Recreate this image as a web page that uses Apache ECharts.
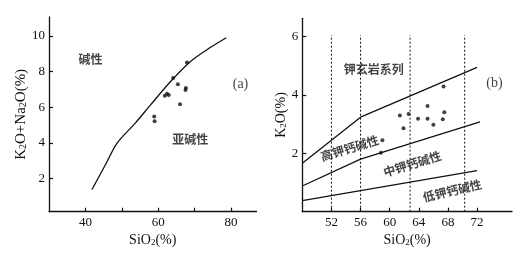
<!DOCTYPE html>
<html>
<head>
<meta charset="utf-8">
<script src="https://cdn.jsdelivr.net/npm/echarts@6/dist/echarts.min.js"></script>
<style>html,body{margin:0;padding:0;background:#fff;}#c{width:530px;height:258px;}</style>
</head>
<body>
<div id="c"></div>
<script>
// ---- Panel (a): TAS-style diagram ----
const curveA = [[41.8,1.39],[45.5,2.78],[48.7,3.99],[53.7,5.11],[57.9,6.13],[63.4,7.44],[68.8,8.55],[74.3,9.34],[78.7,9.89]];
const pointsA = [[67.9,8.50],[64.1,7.63],[65.4,7.29],[67.6,7.07],[67.5,6.97],[62.4,6.75],[61.8,6.64],[62.9,6.69],[66.0,6.17],[58.9,5.48],[59.0,5.22]];
const xTicksA = [40,50,60,70,80];
const xLabelsA = [40,60,80];
const yTicksA = [2,4,6,8,10];
const notesA = [
  {text:'碱性', x:41.4, y:8.65, rot:0},
  {text:'亚碱性', x:68.8, y:4.17, rot:0},
  {text:'(a)', x:82.6, y:7.3, rot:0, latin:true}
];

// ---- Panel (b): K2O–SiO2 diagram ----
const lineHighK = [[48,1.66],[56,3.24],[72,4.95]];
const lineMidK = [[48,0.88],[56,1.80],[72.4,3.08]];
const lineLowK = [[48,0.38],[72,1.41]];
const dividers = [52,56,62.8,70.3];
const dividerRange = [0,6.05];
const pointsB = [[67.4,4.29],[65.2,3.62],[67.5,3.41],[61.4,3.30],[62.6,3.35],[63.9,3.19],[65.2,3.19],[67.3,3.17],[66.0,2.98],[61.9,2.86],[59.0,2.45],[58.8,2.02]];
const xTicksB = [52,56,60,64,68,72];
const yTicksB = [2,4,6];
const notesB = [
  {text:'钾玄岩系列', x:57.8, y:4.88, rot:0},
  {text:'(b)', x:74.4, y:4.40, rot:0, latin:true},
  {text:'高钾钙碱性', x:54.5, y:2.18, rot:17},
  {text:'中钾钙碱性', x:63.1, y:1.64, rot:17},
  {text:'低钾钙碱性', x:68.6, y:0.72, rot:13}
];

const SERIF = '"Liberation Serif","DejaVu Serif",serif';
const CJK = '"Noto Sans CJK SC","Noto Sans CJK JP",sans-serif';
const INK = '#111';

function noteData(list){
  return list.map(n => ({
    value:[n.x,n.y], name:n.text,
    label:{rotate:n.rot, fontFamily:n.latin?SERIF:CJK, fontSize:n.latin?14:12, fontWeight:n.latin?'normal':'bold'}
  }));
}

function richFor(size){
  return {a:{fontFamily:SERIF,fontSize:size,color:INK}, s:{fontFamily:SERIF,fontSize:Math.round(size*0.65),color:INK,verticalAlign:'bottom'}};
}

function xAxisCfg(gi, min, max, ticks, labels, nameGap){
  return {
    gridIndex:gi, type:'value', min:min, max:max,
    name:'{a|SiO}{s|2}{a|(%)}', nameLocation:'middle', nameGap:nameGap,
    nameTextStyle:{color:INK, fontFamily:SERIF, fontSize:14, rich:richFor(14)},
    axisLine:{show:true, onZero:false, lineStyle:{color:INK, width:1.3}},
    axisTick:{show:true, inside:true, length:4, customValues:ticks, lineStyle:{color:INK,width:1.2}},
    axisLabel:{show:true, customValues:labels, margin:4, color:INK, fontFamily:SERIF, fontSize:13},
    splitLine:{show:false}
  };
}
function yAxisCfg(gi, min, max, ticks, name, nameGap, nameSize){
  return {
    gridIndex:gi, type:'value', min:min, max:max,
    name:name, nameLocation:'middle', nameGap:nameGap,
    nameTextStyle:{color:INK, fontFamily:SERIF, fontSize:nameSize, rich:richFor(nameSize)},
    axisLine:{show:true, onZero:false, lineStyle:{color:INK, width:1.3}},
    axisTick:{show:true, inside:true, length:4, customValues:ticks, lineStyle:{color:INK,width:1.2}},
    axisLabel:{show:true, customValues:ticks, margin:4, color:INK, fontFamily:SERIF, fontSize:13},
    splitLine:{show:false}
  };
}

const lineStyleSolid = {color:INK, width:1.3};
function lineSeries(xi, data){
  return {type:'line', xAxisIndex:xi, yAxisIndex:xi, data:data, symbol:'none', smooth:false,
    lineStyle:lineStyleSolid, silent:true, animation:false};
}

const series = [
  Object.assign(lineSeries(0, curveA), {smooth:0.3}),
  {type:'scatter', xAxisIndex:0, yAxisIndex:0, data:pointsA, symbol:'circle', symbolSize:4,
    itemStyle:{color:INK}, animation:false},
  {type:'scatter', xAxisIndex:0, yAxisIndex:0, data:noteData(notesA), symbolSize:0,
    label:{show:true, position:'inside', formatter:'{b}', color:INK}, animation:false},
  lineSeries(1, lineHighK),
  lineSeries(1, lineMidK),
  lineSeries(1, lineLowK),
  {type:'scatter', xAxisIndex:1, yAxisIndex:1, data:pointsB, symbol:'circle', symbolSize:4,
    itemStyle:{color:INK}, animation:false},
  {type:'scatter', xAxisIndex:1, yAxisIndex:1, data:noteData(notesB), symbolSize:0,
    label:{show:true, position:'inside', formatter:'{b}', color:INK}, animation:false}
];
dividers.forEach(d => {
  series.push({type:'line', xAxisIndex:1, yAxisIndex:1, symbol:'none', animation:false,
    data:[[d,dividerRange[0]],[d,dividerRange[1]]],
    lineStyle:{color:INK, width:1, type:[2,2]}});
});

const chart = echarts.init(document.getElementById('c'), null, {renderer:'canvas'});
chart.setOption({
  backgroundColor:'#fff',
  animation:false,
  grid:[
    {left:49, right:273.5, top:17, bottom:46.3},
    {left:302.3, right:18, top:18.3, bottom:46.3}
  ],
  xAxis:[
    xAxisCfg(0, 30, 87, xTicksA, xLabelsA, 21),
    xAxisCfg(1, 48, 76.8, xTicksB, xTicksB, 21)
  ],
  yAxis:[
    yAxisCfg(0, 0.15, 11.05, yTicksA, '{a|K}{s|2}{a|O+Na}{s|2}{a|O(%)}', 19, 15),
    yAxisCfg(1, 0, 6.63, yTicksB, '{a|K}{s|2}{a|O(%)}', 14, 14)
  ],
  series:series
});
</script>
</body>
</html>
